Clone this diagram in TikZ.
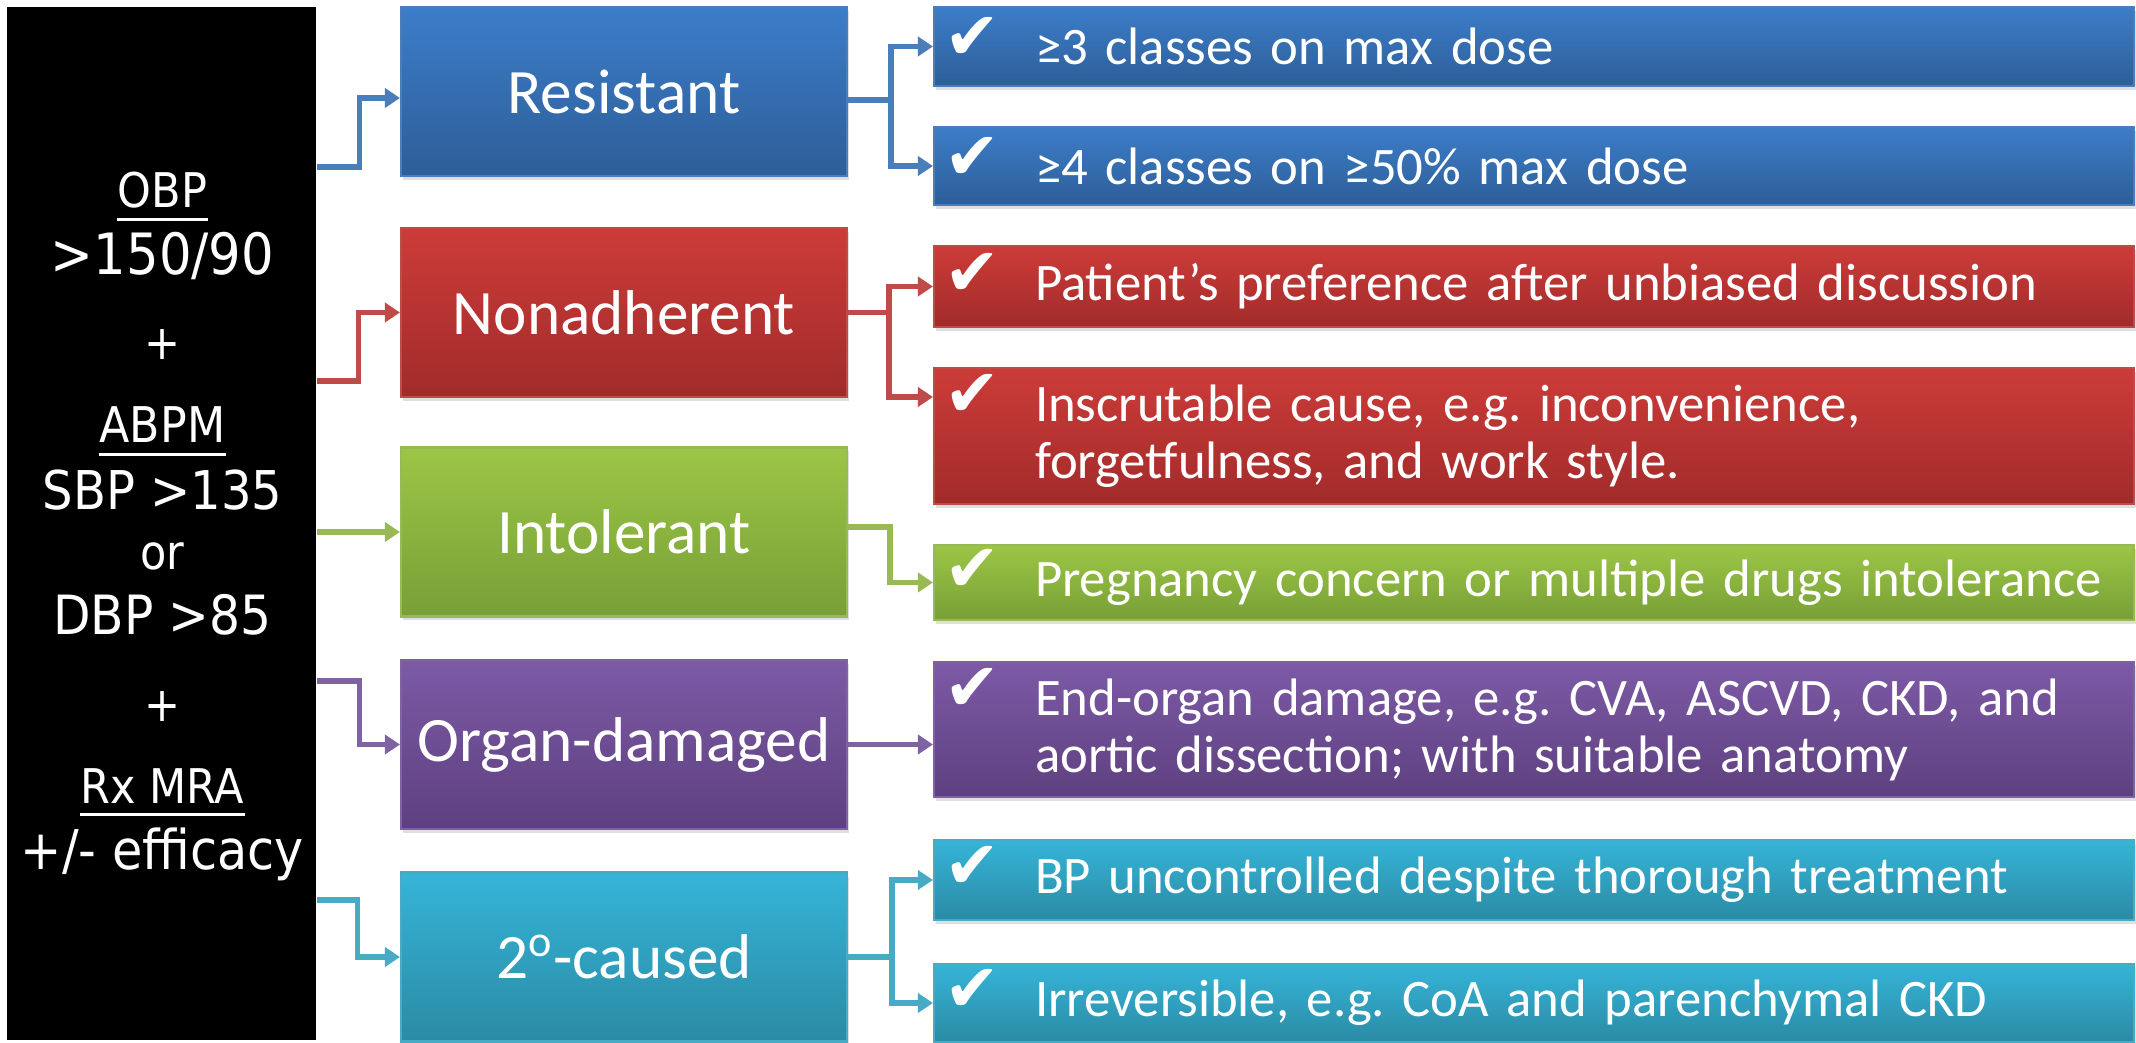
\documentclass[tikz,border=0pt]{standalone}
\usepackage{fontspec}
\setmainfont{Carlito}
\newfontfamily\bpfont[FakeStretch=0.9]{DejaVu Sans}
\newfontfamily\tickfont{DejaVu Sans}
\usepackage{tikz}
\usetikzlibrary{arrows.meta, shadows}
\definecolor{ResTop}{HTML}{3C7DC9}
\definecolor{ResBot}{HTML}{2D5E98}
\definecolor{ResLine}{HTML}{4A7EBB}
\definecolor{NonTop}{HTML}{CC3C39}
\definecolor{NonBot}{HTML}{A12B2A}
\definecolor{NonLine}{HTML}{BE4B48}
\definecolor{IntTop}{HTML}{9CC646}
\definecolor{IntBot}{HTML}{779F37}
\definecolor{IntLine}{HTML}{98B954}
\definecolor{OrgTop}{HTML}{7C5AA6}
\definecolor{OrgBot}{HTML}{5E407F}
\definecolor{OrgLine}{HTML}{7E62A1}
\definecolor{SecTop}{HTML}{36B4D8}
\definecolor{SecBot}{HTML}{2A8BA4}
\definecolor{SecLine}{HTML}{47ABC6}
\newcommand{\tickrow}[1]{\makebox[0.91cm][l]{\smash{\raisebox{0.05cm}{\tickfont\fontsize{19}{19}\selectfont ✔}}}\parbox[t]{10.85cm}{\raggedright #1}}
\frenchspacing

\begin{document}
\begin{tikzpicture}[x=1cm,y=1cm,
    catbox/.style={draw=#1Line,line width=0.6pt,top color=#1Top,bottom color=#1Bot,text=white,
      minimum width=4.46cm,minimum height=1.69cm,font=\fontsize{18}{21}\selectfont,
      drop shadow={opacity=0.25,shadow xshift=0.02cm,shadow yshift=-0.04cm}},
    chkbox/.style={draw=#1Line,line width=0.6pt,top color=#1Top,bottom color=#1Bot,text=white,
      text width=11.8cm,inner xsep=0.1cm,inner ysep=0pt,align=left,font=\fontsize{15}{16.2}\selectfont,
      drop shadow={opacity=0.25,shadow xshift=0.02cm,shadow yshift=-0.04cm}},
    bptext/.style={text=white,inner sep=0pt,anchor=base},
    uline/.style={draw=white,line width=0.03cm},
    link/.style={draw=#1Line,line width=0.055cm,-{Triangle[length=0.15cm,width=0.19cm]}}]
    \path[use as bounding box,fill=white] (0,0) rectangle (21.36,-10.43);

    % left column
    \node[fill=black,minimum width=3.09cm,minimum height=10.33cm,inner sep=0pt] (bp) at (1.615,-5.235) {};
    \node[bptext,font=\bpfont\fontsize{13.6}{14}\selectfont] (obp) at (1.625,-2.08) {OBP};
    \node[bptext,font=\bpfont\fontsize{16.2}{17}\selectfont] (bpa) at (1.625,-2.75) {>150/90};
    \node[bptext,font=\bpfont\fontsize{13.6}{14}\selectfont] (plusa) at (1.625,-3.60) {+};
    \node[bptext,font=\bpfont\fontsize{14}{15}\selectfont] (abpm) at (1.625,-4.43) {ABPM};
    \node[bptext,font=\bpfont\fontsize{15.2}{16}\selectfont] (sbp) at (1.625,-5.10) {SBP >135};
    \node[bptext,font=\bpfont\fontsize{13.6}{14}\selectfont] (orw) at (1.625,-5.70) {or};
    \node[bptext,font=\bpfont\fontsize{15.4}{16}\selectfont] (dbp) at (1.625,-6.35) {DBP >85};
    \node[bptext,font=\bpfont\fontsize{13.6}{14}\selectfont] (plusb) at (1.625,-7.21) {+};
    \node[bptext,font=\bpfont\fontsize{13.6}{14}\selectfont] (rxmra) at (1.625,-8.03) {Rx MRA};
    \node[bptext,font=\bpfont\fontsize{15.6}{16}\selectfont] (effic) at (1.625,-8.70) {+/- efficacy};
    \draw[uline] ([yshift=-0.12cm]obp.base west) -- ([yshift=-0.12cm]obp.base east);
    \draw[uline] ([yshift=-0.12cm]abpm.base west) -- ([yshift=-0.12cm]abpm.base east);
    \draw[uline] ([yshift=-0.12cm]rxmra.base west) -- ([yshift=-0.12cm]rxmra.base east);

    % categories
    \node[catbox=Res] (res) at (6.24,-0.915) {Resistant};
    \node[catbox=Non] (nonad) at (6.24,-3.125) {Nonadherent};
    \node[catbox=Int] (intol) at (6.24,-5.32) {Intolerant};
    \node[catbox=Org] (organ) at (6.24,-7.445) {Organ-damaged};
    \node[catbox=Sec] (sec) at (6.24,-9.57) {2\textsuperscript{o}-caused};

    % criteria
    \node[chkbox=Res,minimum height=0.79cm] (chkA) at (15.34,-0.465) {\tickrow{≥3 classes on max dose}};
    \node[chkbox=Res,minimum height=0.78cm] (chkB) at (15.34,-1.66) {\tickrow{≥4 classes on ≥50\% max dose}};
    \node[chkbox=Non,minimum height=0.81cm] (chkC) at (15.34,-2.865) {\tickrow{Patient’s preference after unbiased discussion}};
    \node[chkbox=Non,minimum height=1.36cm] (chkD) at (15.34,-4.36) {\tickrow{Inscrutable cause, e.g. inconvenience,\\ forgetfulness, and work style.}};
    \node[chkbox=Int,minimum height=0.75cm] (chkE) at (15.34,-5.825) {\tickrow{Pregnancy concern or multiple drugs intolerance}};
    \node[chkbox=Org,minimum height=1.35cm] (chkF) at (15.34,-7.295) {\tickrow{End-organ damage, e.g. CVA, ASCVD, CKD, and\\ aortic dissection; with suitable anatomy}};
    \node[chkbox=Sec,minimum height=0.80cm] (chkG) at (15.34,-8.80) {\tickrow{BP uncontrolled despite thorough treatment}};
    \node[chkbox=Sec,minimum height=0.78cm] (chkH) at (15.34,-10.03) {\tickrow{Irreversible, e.g. CoA and parenchymal CKD}};

    % links from the left column
    \draw[link=Res] (bp.east |- 0,-1.67) -- ++(0.43,0) |- ([yshift=-0.065cm]res.west);
    \draw[link=Non] (bp.east |- 0,-3.81) -- ++(0.42,0) |- (nonad.west);
    \draw[link=Int] (bp.east |- intol.west) -- (intol.west);
    \draw[link=Org] (bp.east |- 0,-6.81) -- ++(0.43,0) |- (organ.west);
    \draw[link=Sec] (bp.east |- 0,-9.00) -- ++(0.41,0) |- (sec.west);

    % links to the criteria
    \draw[link=Res] ([yshift=-0.085cm]res.east) -- ++(0.43,0) |- (chkA.west);
    \draw[link=Res] ([yshift=-0.085cm]res.east) -- ++(0.43,0) |- (chkB.west);
    \draw[link=Non] (nonad.east) -- ++(0.41,0) |- (chkC.west);
    \draw[link=Non] (nonad.east) -- ++(0.41,0) |- ([yshift=0.39cm]chkD.west);
    \draw[link=Int] ([yshift=0.05cm]intol.east) -- ++(0.42,0) |- (chkE.west);
    \draw[link=Org] (organ.east) -- (organ.east -| chkF.west);
    \draw[link=Sec] (sec.east) -- ++(0.44,0) |- (chkG.west);
    \draw[link=Sec] (sec.east) -- ++(0.44,0) |- (chkH.west);
  \end{tikzpicture}
\end{document}
